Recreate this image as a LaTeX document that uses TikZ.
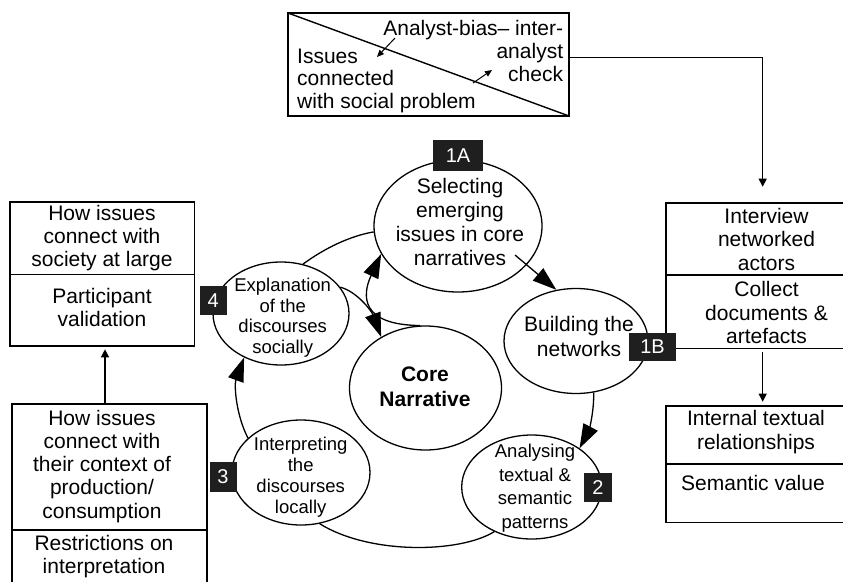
\documentclass[tikz,border=0pt]{standalone}
\usepackage{fontspec}
\setmainfont{Liberation Sans}
\usetikzlibrary{shapes.geometric,arrows.meta,calc}
\begin{document}
\begin{tikzpicture}[x=1pt,y=-1pt,
  ell/.style={draw, ellipse, line width=1.3pt, fill=white, inner sep=0pt},
  txt/.style={align=center, inner sep=0pt, font=\fontsize{21}{23.5}\selectfont},
  stxt/.style={align=center, inner sep=0pt, font=\fontsize{18.5}{21}\selectfont},
  tag/.style={fill=black!88, text=white, inner sep=0pt, font=\fontsize{20}{20}\selectfont},
  conn/.style={line width=1.3pt, -{Triangle[length=24pt,width=16pt]}},
  arcline/.style={line width=1.3pt},
  smallarrow/.style={line width=1.3pt, -{Triangle[length=8pt,width=8pt]}},
  tinyarrow/.style={line width=1pt, -{Triangle[length=7pt,width=6pt]}},
  boxline/.style={line width=1.6pt},
  area/.style={inner sep=0pt, outer sep=0pt, anchor=north west}
]
\useasboundingbox (0,0) rectangle (843,582);

% ---------- top box ----------
\node[area, draw, boxline, minimum width=281, minimum height=103] (topbox) at (288,13) {};
\draw[line width=1.4pt] (topbox.north west) -- (topbox.south east);
\node[align=left, inner sep=0pt, anchor=west, font=\fontsize{21}{22.5}\selectfont] (topL) at (297,81)
  {\strut Issues\\connected\\with social problem\strut};
\node[align=right, inner sep=0pt, anchor=east, font=\fontsize{21}{23.3}\selectfont] (topR) at (563.3,53.7)
  {\strut Analyst-bias\textendash{} inter-\\analyst\\check\strut};
\coordinate (b1s) at (395,38); \coordinate (b1e) at (377,57);
\coordinate (b2s) at (473,83); \coordinate (b2e) at (492,70);
\draw[tinyarrow] (b1s) -- (b1e);
\draw[tinyarrow] (b2s) -- (b2e);

% ---------- left boxes ----------
\node[area, draw, boxline, minimum width=184.3, minimum height=72.6] (lb1) at (10,201.7) {};
\node[area, draw, boxline, minimum width=184.3, minimum height=71.7] (lb2) at (10,274.3) {};
\node[txt, font=\fontsize{21}{23.3}\selectfont] (lb1T) at (102,238.7) {\strut How issues\\connect with\\society at large\strut};
\node[txt, font=\fontsize{21}{23.3}\selectfont] (lb2T) at (102,310.3) {\strut Participant\\validation\strut};

\node[area, minimum width=195, minimum height=126] (llb1) at (11.7,404) {};
\node[area, minimum width=195, minimum height=52] (llb2) at (11.7,530) {};
\draw[boxline] (llb2.south west) -- (llb1.north west) -- (llb1.north east) -- (llb2.south east);
\draw[boxline] (llb1.south west) -- (llb1.south east);
\node[txt, font=\fontsize{21}{23.3}\selectfont] (llb1T) at (102,467)
  {\strut How issues\\connect with\\their context of\\production/\\consumption\strut};
\node[txt, font=\fontsize{21}{23.3}\selectfont] (llb2T) at (104,557) {\strut Restrictions on\\interpretation\strut};

% ---------- right boxes ----------
\node[area, minimum width=177, minimum height=72.3] (rb1) at (666,202.7) {};
\node[area, minimum width=177, minimum height=73.3] (rb2) at (666,275) {};
\draw[boxline] (rb1.north east) -- (rb1.north west) -- (rb2.south west) -- (rb2.south east);
\draw[boxline] (rb1.south west) -- (rb1.south east);
\node[txt, font=\fontsize{21}{23.5}\selectfont] (rb1T) at (766.5,241.8) {\strut Interview\\networked\\actors\strut};
\node[txt, font=\fontsize{21}{23.5}\selectfont] (rb2T) at (766.5,315.7) {\strut Collect\\documents \&\\artefacts\strut};

\node[area, minimum width=177, minimum height=58.3] (rlb1) at (666,405.7) {};
\node[area, minimum width=177, minimum height=58.3] (rlb2) at (666,464) {};
\draw[boxline] (rlb1.north east) -- (rlb1.north west) -- (rlb2.south west) -- (rlb2.south east);
\draw[boxline] (rlb1.south west) -- (rlb1.south east);
\node[txt, font=\fontsize{21}{24}\selectfont] (rlb1T) at (756,432.7) {\strut Internal textual\\relationships\strut};
\node[txt, font=\fontsize{21}{23.5}\selectfont] (rlb2T) at (753,485.3) {\strut Semantic value};

% box connectors
\draw[smallarrow, shorten >=16pt] ($(topbox.north east)+(0,44.6)$) -| ($(rb1.north west)+(96.7,0)$);
\draw[smallarrow] ($(rb2.south west)+(96.7,4)$) -- ($(rlb1.north west)+(96.7,-4)$);
\draw[smallarrow] ($(llb1.north west)+(93.3,0)$) -- ($(lb2.south west)+(95,3.3)$);

% ---------- ellipses ----------
\node[ell, minimum width=168, minimum height=132] (sel) at (458,226) {};
\node[ell, minimum width=136, minimum height=103] (exp) at (281,313.5) {};
\node[ell, minimum width=144, minimum height=105] (bld) at (576,341) {};
\node[ell, minimum width=140, minimum height=104] (ana) at (531.7,487) {};
\node[ell, minimum width=138, minimum height=105] (int) at (301,472.5) {};
\node[ell, minimum width=152, minimum height=124] (core) at (425.5,388) {};

% ---------- cycle connectors ----------
\coordinate (selout) at (515,255);
\draw[arcline] (exp.66) .. controls (325,248) and (350,236) .. (sel.184);
\draw[conn] (selout) -- (bld.111);
\draw[conn] (bld.-71) .. controls (594,415) and (588,432) .. (ana.39);
\draw[arcline] (ana.230) .. controls (460,553) and (370,555) .. (int.290);
\draw[conn] (int.147) .. controls (236,415) and (234,385) .. (exp.230);
\draw[conn] (exp.24) .. controls (358,292) and (372,312) .. (core.131);
\draw[conn] (core.95) .. controls (360,325) and (362,295) .. (sel.200);

% ---------- ellipse texts ----------
\node[txt, font=\fontsize{21}{24}\selectfont] (selT) at (460,224.4) {\strut Selecting\\emerging\\issues in core\\narratives\strut};
\node[stxt, font=\fontsize{18.5}{20.5}\selectfont] (expT) at (282.7,318.4) {\strut Explanation\\of the\\discourses\\socially\strut};
\node[txt, font=\fontsize{21}{25}\selectfont\bfseries] (coreT) at (425,388.5) {\strut Core\\Narrative\strut};
\node[txt, font=\fontsize{21}{25}\selectfont] (bldT) at (579,339.2) {\strut Building the\\networks\strut};
\node[stxt, font=\fontsize{18.5}{23.5}\selectfont] (anaT) at (535,488.1) {\strut Analysing\\textual \&\\semantic\\patterns\strut};
\node[stxt, font=\fontsize{18.5}{21}\selectfont] (intT) at (300.7,477.8) {\strut Interpreting\\the\\discourses\\locally\strut};

% ---------- tags ----------
\node[tag, minimum width=50, minimum height=31] (t1A) at (458,155.5) {1A};
\node[tag, minimum width=47, minimum height=28] (t1B) at (652.5,347) {1B};
\node[tag, minimum width=28, minimum height=29] (t2) at (598,487.5) {2};
\node[tag, minimum width=27, minimum height=30] (t3) at (223,477) {3};
\node[tag, minimum width=27, minimum height=29] (t4) at (213.3,300.5) {4};
\end{tikzpicture}
\end{document}
